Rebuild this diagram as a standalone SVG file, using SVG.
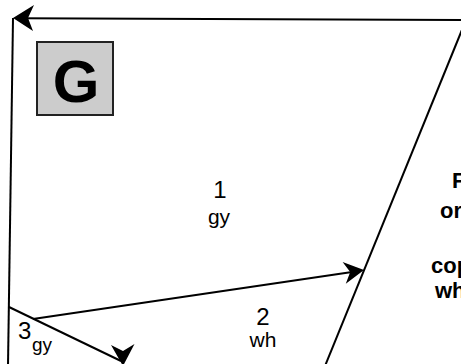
<svg xmlns="http://www.w3.org/2000/svg" width="461" height="364" viewBox="0 0 461 364">
<style>
.ln{fill:none;stroke:#000;stroke-width:2}
.ah{fill:#000;stroke:none}
.t{font-family:"Liberation Sans",Arial,sans-serif;fill:#000}
.num{font-size:24px;text-anchor:middle}
.sub{font-size:21px;text-anchor:middle}
.b{font-family:"Liberation Sans",Arial,sans-serif;font-weight:bold;font-size:22px;fill:#000}
</style>
<rect width="461" height="364" fill="#fff"/>
<g id="connectors">
<path class="ln" d="M 466 20 L 20 18.3"/>
<polygon class="ah" points="13,18 34,5 28,18 33,31"/>
<path class="ln" d="M 13 18 L 8 366"/>
<path class="ln" d="M 466 20 L 325 366"/>
<path class="ln" d="M 33 319 L 352 272"/>
<polygon class="ah" points="364,270 342.6,262 350.2,272 345.8,283.8"/>
<path class="ln" d="M 9 307 L 121 361"/>
<polygon class="ah" points="123,366 111,345 123,351 134.5,344"/>
</g>
<g id="node-G">
<rect x="37" y="42" width="76" height="73" fill="#cccccc" stroke="#222" stroke-width="2"/>
<text class="t" x="76" y="102" font-size="60" font-weight="bold" text-anchor="middle">G</text>
</g>
<g id="region-1">
<text class="t num" x="220" y="198">1</text>
<text class="t sub" x="219" y="224">gy</text>
</g>
<g id="region-2">
<text class="t num" x="263" y="325">2</text>
<text class="t sub" x="263" y="347">wh</text>
</g>
<g id="region-3">
<text class="t" x="18" y="339" font-size="24">3</text>
<text class="t" x="32" y="351" font-size="19">gy</text>
</g>
<g id="note-right">
<text class="b" x="452" y="188">F</text>
<text class="b" x="440" y="218">or</text>
<text class="b" x="431" y="273">cop</text>
<text class="b" x="435" y="298">wh</text>
</g>
</svg>
